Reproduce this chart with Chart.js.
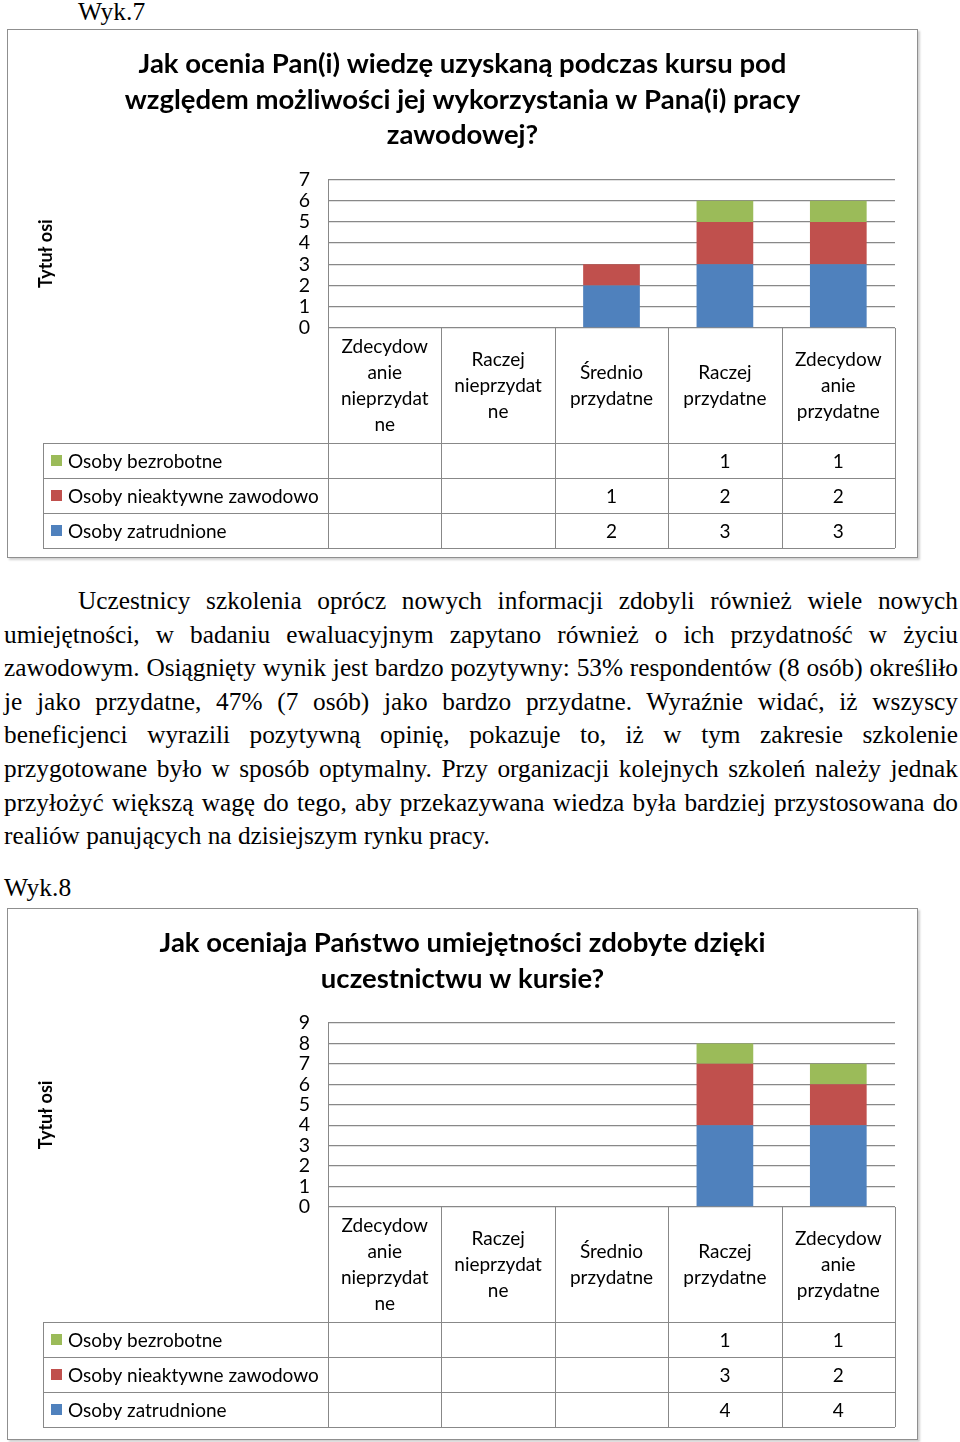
<!DOCTYPE html>
<html lang="pl">
<head>
<meta charset="utf-8">
<title>Wyk.7 / Wyk.8</title>
<script src="https://cdn.jsdelivr.net/npm/chart.js@4.4.1/dist/chart.umd.min.js"></script>
<style>
  body { margin: 0; background: #fff; width: 960px; height: 1442px; position: relative; overflow: hidden; }
  .cap { position: absolute; font-family: "Liberation Serif", "DejaVu Serif", serif; font-size: 25.5px; line-height: 26px; color: #000; }
  .box { position: absolute; left: 7px; width: 909px; border: 1px solid #8f8f8f; box-shadow: 2px 2px 2px #d0d0d0; background: #fff; }
  .box canvas { display: block; }
  .para { position: absolute; left: 4px; top: 584px; width: 954px; font-family: "Liberation Serif", "DejaVu Serif", serif; font-size: 25.3px; line-height: 33.6px; color: #000; }
  .para div { text-align: justify; text-align-last: justify; white-space: normal; }
  .para div.first { padding-left: 74px; }
  .para div.last { text-align: left; text-align-last: left; }
</style>
</head>
<body>

<div class="cap" style="left:78px; top:-1px;">Wyk.7</div>
<div class="box" style="top:29px; height:527px;"><canvas id="chart7" width="909" height="527"></canvas></div>

<div class="para">
  <div class="first">Uczestnicy szkolenia oprócz nowych informacji zdobyli również wiele nowych</div>
  <div>umiejętności, w badaniu ewaluacyjnym zapytano również o ich przydatność w życiu</div>
  <div>zawodowym. Osiągnięty wynik jest bardzo pozytywny: 53% respondentów (8 osób) określiło</div>
  <div>je jako przydatne, 47% (7 osób) jako bardzo przydatne. Wyraźnie widać, iż wszyscy</div>
  <div>beneficjenci wyrazili pozytywną opinię, pokazuje to, iż w tym zakresie szkolenie</div>
  <div>przygotowane było w sposób optymalny. Przy organizacji kolejnych szkoleń należy jednak</div>
  <div>przyłożyć większą wagę do tego, aby przekazywana wiedza była bardziej przystosowana do</div>
  <div class="last">realiów panujących na dzisiejszym rynku pracy.</div>
</div>

<div class="cap" style="left:4px; top:875px;">Wyk.8</div>
<div class="box" style="top:908px; height:530px;"><canvas id="chart8" width="909" height="530"></canvas></div>

<script>
// categories (same for both charts, broken into lines like in the original)
const categories = [
  ["Zdecydow", "anie", "nieprzydat", "ne"],
  ["Raczej", "nieprzydat", "ne"],
  ["Średnio", "przydatne"],
  ["Raczej", "przydatne"],
  ["Zdecydow", "anie", "przydatne"]
];
const seriesNames = ["Osoby zatrudnione", "Osoby nieaktywne zawodowo", "Osoby bezrobotne"];
const seriesColors = ["#4f81bd", "#c0504d", "#9bbb59"];

// Wyk.7
const title7 = ["Jak ocenia Pan(i) wiedzę uzyskaną podczas kursu pod", "względem możliwości jej wykorzystania w Pana(i) pracy", "zawodowej?"];
const zatrudnione7 = [null, null, 2, 3, 3];
const nieaktywne7 = [null, null, 1, 2, 2];
const bezrobotne7 = [null, null, null, 1, 1];
const yMax7 = 7;

// Wyk.8
const title8 = ["Jak oceniaja Państwo umiejętności zdobyte dzięki", "uczestnictwu w kursie?"];
const zatrudnione8 = [null, null, null, 4, 4];
const nieaktywne8 = [null, null, null, 3, 2];
const bezrobotne8 = [null, null, null, 1, 1];
const yMax8 = 9;

const FONT = "Lato, 'Open Sans', sans-serif";
const GRID = "#888888";

// draws the category cells and the data table under the plot (Excel style)
const dataTablePlugin = {
  id: "dataTable",
  afterDraw(chart, args, opts) {
    const ctx = chart.ctx;
    const area = chart.chartArea;
    const xScale = chart.scales.x;
    const n = chart.data.labels.length;
    const step = (area.right - area.left) / n;
    const top = area.bottom;
    const catBottom = top + opts.catHeight;
    const rows = chart.data.datasets.slice().reverse();
    const tableBottom = catBottom + opts.rowHeight * rows.length;
    const px = v => Math.round(v) + 0.5;

    ctx.save();
    ctx.strokeStyle = GRID;
    ctx.lineWidth = 1;
    ctx.beginPath();
    for (let i = 0; i <= n; i++) {
      const x = px(area.left + i * step);
      ctx.moveTo(x, top);
      ctx.lineTo(x, tableBottom);
    }
    ctx.moveTo(px(opts.tableLeft), catBottom);
    ctx.lineTo(px(opts.tableLeft), tableBottom);
    for (let r = 0; r <= rows.length; r++) {
      const y = px(catBottom + r * opts.rowHeight);
      ctx.moveTo(opts.tableLeft, y);
      ctx.lineTo(area.right, y);
    }
    ctx.stroke();

    ctx.fillStyle = "#000";
    ctx.font = opts.fontSize + "px " + FONT;
    ctx.textAlign = "center";
    ctx.textBaseline = "middle";

    // category labels
    chart.data.labels.forEach((lab, i) => {
      const lines = Array.isArray(lab) ? lab : [lab];
      const cx = xScale.getPixelForValue(i);
      const cy = (top + catBottom) / 2;
      const y0 = cy - (lines.length - 1) * opts.lineHeight / 2;
      lines.forEach((t, k) => ctx.fillText(t, cx, y0 + k * opts.lineHeight));
    });

    // table rows
    rows.forEach((ds, r) => {
      const cy = catBottom + (r + 0.5) * opts.rowHeight;
      ctx.fillStyle = ds.backgroundColor;
      ctx.fillRect(opts.tableLeft + 8, Math.round(cy - 6), 11, 11);
      ctx.fillStyle = "#000";
      ctx.textAlign = "left";
      ctx.fillText(ds.label, opts.tableLeft + 25, cy + 1);
      ctx.textAlign = "center";
      ds.data.forEach((v, i) => {
        if (v !== null) ctx.fillText(String(v), xScale.getPixelForValue(i), cy + 1);
      });
    });
    ctx.restore();
  }
};

function makeChart(id, titleLines, data, yMax, bottomPad) {
  const datasets = data.map((vals, i) => ({
    label: seriesNames[i],
    data: vals,
    backgroundColor: seriesColors[i],
    borderWidth: 0,
    barPercentage: 0.5,
    categoryPercentage: 1
  }));

  return new Chart(document.getElementById(id), {
    type: "bar",
    data: { labels: categories, datasets: datasets },
    plugins: [dataTablePlugin],
    options: {
      responsive: false,
      animation: false,
      layout: { padding: { left: 22, right: 22, top: 0, bottom: bottomPad } },
      plugins: {
        legend: { display: false },
        tooltip: { enabled: false },
        title: {
          display: true,
          text: titleLines,
          color: "#000",
          font: { family: FONT, size: 27.5, weight: "bold", lineHeight: 1.29 },
          padding: { top: 16.5, bottom: 26.5 }
        },
        dataTable: { catHeight: 115, rowHeight: 35, tableLeft: 35, fontSize: 19, lineHeight: 26 }
      },
      scales: {
        x: {
          stacked: true,
          grid: { display: false, drawTicks: false },
          border: { display: false },
          ticks: { display: false }
        },
        y: {
          stacked: true,
          min: 0,
          max: yMax,
          afterFit(scale) { scale.width = 298; },
          grid: { color: GRID, lineWidth: 1.3, drawTicks: false },
          border: { display: true, color: GRID, width: 1 },
          ticks: { stepSize: 1, autoSkip: false, padding: 18, color: "#000", font: { family: FONT, size: 19.5 } },
          title: {
            display: true,
            text: "Tytuł osi",
            color: "#000",
            font: { family: FONT, size: 18, weight: "bold", lineHeight: 1.2 },
            padding: { top: 5, bottom: 0 }
          }
        }
      }
    }
  });
}

makeChart("chart7", title7, [zatrudnione7, nieaktywne7, bezrobotne7], yMax7, 229);
makeChart("chart8", title8, [zatrudnione8, nieaktywne8, bezrobotne8], yMax8, 232);
</script>
</body>
</html>
